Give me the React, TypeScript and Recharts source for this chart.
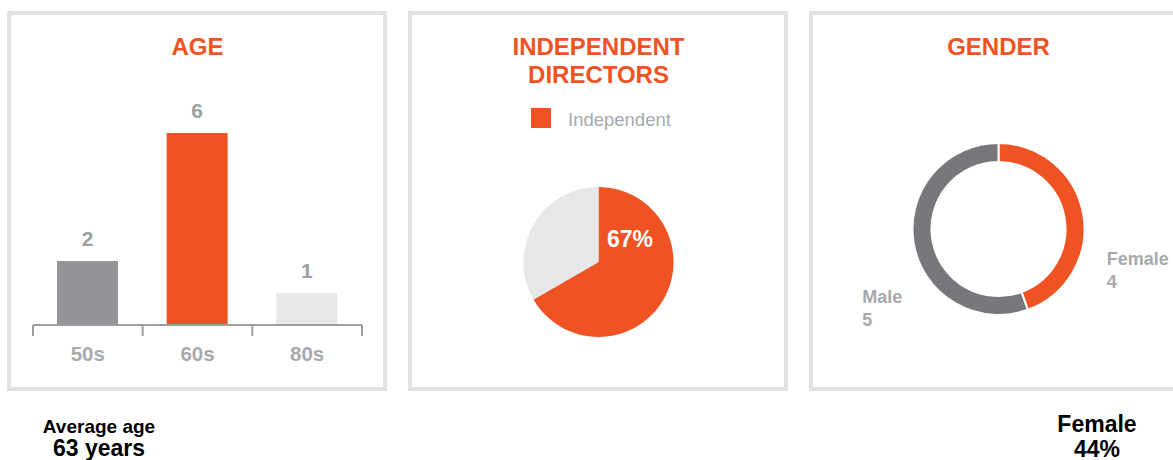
import { BarChart, Bar, XAxis, YAxis, Cell, LabelList, PieChart, Pie } from 'recharts'

const ageGroups = ['50s', '60s', '80s']
const ageCounts = [2, 6, 1]
const ageColors = ['#939598', '#f05323', '#e6e7e8']

const independentNames = ['Independent', 'Non-independent']
const independentCounts = [6, 3]
const independentColors = ['#f05323', '#e6e7e8']

const genderNames = ['Female', 'Male']
const genderCounts = [4, 5]
const genderColors = ['#f05323', '#77787b']

const averageAge = 63

const FONT = '"Liberation Sans", Arial, sans-serif'
const ORANGE = '#f05323'
const LABEL_GRAY = '#a7a9ac'
const RADIAN = Math.PI / 180

const ageData = ageGroups.map((group, i) => ({ group, count: ageCounts[i] }))
const independentData = independentNames.map((name, i) => ({ name, value: independentCounts[i] }))
const genderData = genderNames.map((name, i) => ({ name, value: genderCounts[i] }))

const totalDirectors = genderCounts.reduce((a, b) => a + b, 0)
const femalePct = Math.round((genderCounts[0] / totalDirectors) * 100)

const AGE_MARGIN = { top: 133, right: 38, left: 33, bottom: 35 }
const AGE_W = 400
const AGE_PLOT_W = AGE_W - AGE_MARGIN.left - AGE_MARGIN.right

const AgeTick = (props: any) => {
  const { x, y, payload, index } = props
  const band = AGE_PLOT_W / ageGroups.length
  return (
    <g>
      <line x1={x - band / 2} y1={y} x2={x - band / 2} y2={y + 11} stroke="#9a9c9f" strokeWidth={2} />
      {index === ageGroups.length - 1 && (
        <line x1={x + band / 2} y1={y} x2={x + band / 2} y2={y + 11} stroke="#9a9c9f" strokeWidth={2} />
      )}
      <text x={x} y={y + 36} textAnchor="middle" fill={LABEL_GRAY} fontSize={20.5} fontWeight="bold" fontFamily={FONT}>
        {payload.value}
      </text>
    </g>
  )
}

const renderIndependentLabel = (props: any) => {
  const { cx, cy, outerRadius, percent, index } = props
  if (index !== 0) return null
  const angle = 36 * RADIAN
  const r = outerRadius * 0.52
  return (
    <text
      x={cx + r * Math.cos(angle)}
      y={cy - r * Math.sin(angle)}
      fill="#fff"
      textAnchor="middle"
      dominantBaseline="central"
      fontSize={23}
      fontWeight="bold"
      fontFamily={FONT}
    >
      {`${Math.round(percent * 100)}%`}
    </text>
  )
}

const renderGenderLabel = (props: any) => {
  const { cx, cy, outerRadius, midAngle, name, value } = props
  const r = outerRadius + 22
  const px = cx + r * Math.cos(-midAngle * RADIAN)
  const py = cy + r * Math.sin(-midAngle * RADIAN)
  const right = Math.cos(-midAngle * RADIAN) >= 0
  const x = right ? px + 2 : px - 30
  return (
    <text x={x} y={py + 55} fill={LABEL_GRAY} fontSize={18} fontWeight="bold" fontFamily={FONT} textAnchor="start">
      <tspan x={x}>{name}</tspan>
      <tspan x={x} dy={23}>{value}</tspan>
    </text>
  )
}

const Panel = ({ left }: { left: number }) => (
  <div
    style={{
      position: 'absolute',
      left,
      top: 11,
      width: 380,
      height: 380,
      boxSizing: 'border-box',
      border: '4px solid #e2e2e2',
    }}
  />
)

const Title = ({ center, children }: { center: number; children: React.ReactNode }) => (
  <div
    style={{
      position: 'absolute',
      left: center - 190,
      width: 380,
      top: 33,
      textAlign: 'center',
      color: ORANGE,
      fontSize: 24,
      lineHeight: '28px',
      fontWeight: 'bold',
    }}
  >
    {children}
  </div>
)

export default function App() {
  return (
    <div
      style={{
        position: 'absolute',
        left: 0,
        top: 0,
        width: 1173,
        height: 460,
        overflow: 'hidden',
        background: '#fff',
        fontFamily: FONT,
      }}
    >
      <Panel left={7} />
      <Panel left={408} />
      <Panel left={809} />

      <Title center={197.5}>AGE</Title>
      <Title center={598.5}>
        INDEPENDENT
        <br />
        DIRECTORS
      </Title>
      <Title center={998.5}>GENDER</Title>

      <div style={{ position: 'absolute', left: 0, top: 0 }}>
        <BarChart width={AGE_W} height={400} data={ageData} margin={AGE_MARGIN}>
          <YAxis hide domain={[0, 6]} />
          <XAxis
            dataKey="group"
            height={40}
            interval={0}
            tickLine={false}
            tickSize={0}
            tickMargin={0}
            axisLine={{ stroke: '#9a9c9f', strokeWidth: 2 }}
            tick={<AgeTick />}
          />
          <Bar dataKey="count" barSize={61} isAnimationActive={false}>
            {ageData.map((d, i) => (
              <Cell key={d.group} fill={ageColors[i]} />
            ))}
            <LabelList
              dataKey="count"
              position="top"
              offset={15}
              fill="#9d9fa2"
              fontSize={21}
              fontWeight="bold"
              fontFamily={FONT}
            />
          </Bar>
        </BarChart>
      </div>

      <div style={{ position: 'absolute', left: 531, top: 108, width: 20, height: 20, background: independentColors[0] }} />
      <div
        style={{
          position: 'absolute',
          left: 568,
          top: 110,
          lineHeight: '20px',
          fontSize: 18.5,
          color: LABEL_GRAY,
          whiteSpace: 'nowrap',
        }}
      >
        {independentNames[0]}
      </div>

      <div style={{ position: 'absolute', left: 400, top: 0 }}>
        <PieChart width={400} height={400} margin={{ top: 0, right: 0, bottom: 0, left: 0 }}>
          <Pie
            data={independentData}
            dataKey="value"
            nameKey="name"
            cx={198.5}
            cy={262}
            outerRadius={75}
            startAngle={90}
            endAngle={-270}
            stroke="none"
            labelLine={false}
            label={renderIndependentLabel}
            isAnimationActive={false}
          >
            {independentData.map((d, i) => (
              <Cell key={d.name} fill={independentColors[i]} />
            ))}
          </Pie>
        </PieChart>
      </div>

      <div style={{ position: 'absolute', left: 800, top: 0 }}>
        <PieChart width={400} height={400} margin={{ top: 0, right: 0, bottom: 0, left: 0 }}>
          <Pie
            data={genderData}
            dataKey="value"
            nameKey="name"
            cx={198.5}
            cy={229}
            innerRadius={67}
            outerRadius={86}
            startAngle={90}
            endAngle={-270}
            stroke="#fff"
            strokeWidth={2}
            labelLine={false}
            label={renderGenderLabel}
            isAnimationActive={false}
          >
            {genderData.map((d, i) => (
              <Cell key={d.name} fill={genderColors[i]} />
            ))}
          </Pie>
        </PieChart>
      </div>

      <div
        style={{
          position: 'absolute',
          left: 0,
          width: 198,
          top: 416.5,
          textAlign: 'center',
          fontWeight: 'bold',
          color: '#000',
        }}
      >
        <div style={{ fontSize: 19, lineHeight: '20px' }}>Average age</div>
        <div style={{ fontSize: 23, lineHeight: '22px' }}>{averageAge} years</div>
      </div>

      <div
        style={{
          position: 'absolute',
          left: 997,
          width: 200,
          top: 411.5,
          textAlign: 'center',
          fontWeight: 'bold',
          color: '#000',
          fontSize: 23,
          lineHeight: '25px',
        }}
      >
        <div>{genderNames[0]}</div>
        <div>{femalePct}%</div>
      </div>
    </div>
  )
}
